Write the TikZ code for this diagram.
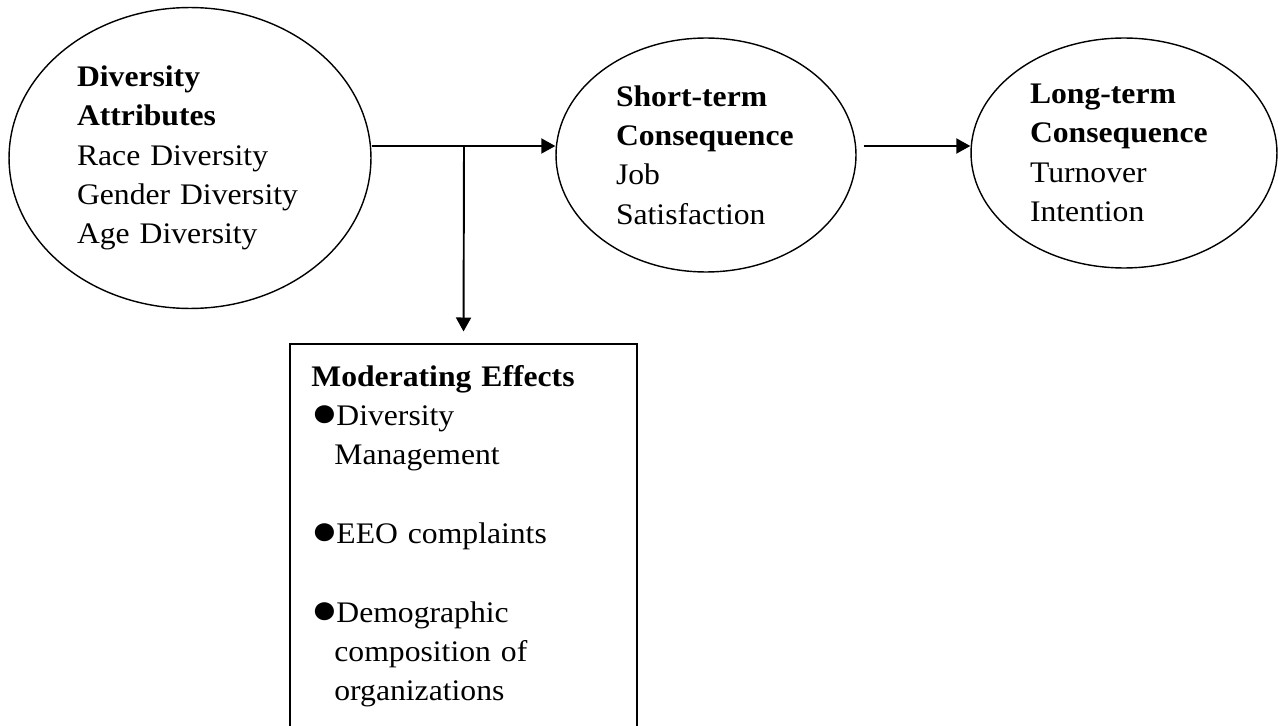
\documentclass[tikz,border=0pt]{standalone}
\usepackage{fontspec}
\setmainfont[FakeStretch=1.06]{Liberation Serif}
\usetikzlibrary{arrows.meta,shapes.geometric}
\newcommand{\bulletline}[1]{\par\noindent\hangindent=0.46cm\hangafter=1\makebox[0.5cm][l]{\raisebox{-0.5pt}{\scalebox{1.4}{●}}}#1\par}
\tikzset{
	oval/.style={draw, ellipse, line width=0.8pt, inner sep=0pt, align=left, font=\fontsize{17}{22.37}\selectfont},
	arr/.style={line width=1.1pt, -{Triangle[length=0.28cm,width=0.3cm]}},
	modbox/.style={draw, rectangle, line width=1.1pt, minimum width=6.94cm, minimum height=8.4cm, anchor=north, inner sep=0pt},
	modtext/.style={anchor=north west, inner sep=0pt, text width=6.2cm, align=left, font=\fontsize{17}{22.37}\selectfont}
}

\begin{document}
\begin{tikzpicture}[x=0.02cm,y=-0.02cm]
				\useasboundingbox (0,0) rectangle (1278,726);
				
				\node[oval, minimum width=7.24cm, minimum height=6.02cm, text width=4.52cm] (attr) at (190,158) {\textbf{Diversity}\\\textbf{Attributes}\\Race Diversity\\Gender Diversity\\Age Diversity};
				\node[oval, minimum width=6cm, minimum height=4.68cm, text width=3.6cm] (short) at (706,155) {\textbf{Short-term}\\\textbf{Consequence}\\Job\\Satisfaction};
				\node[oval, minimum width=6.12cm, minimum height=4.6cm, text width=3.76cm] (long) at (1124,153) {\textbf{Long-term}\\\textbf{Consequence}\\Turnover\\Intention};
				
				\node[modbox] (mod) at (463.5,343) {};
				\node[modtext] (modlist) at ([shift={(22,22)}]mod.north west) {\textbf{Moderating Effects}\bulletline{Diversity\newline Management}\vspace{22.37pt}\bulletline{EEO complaints}\vspace{22.37pt}\bulletline{Demographic\newline composition of\newline organizations}};
				
				\coordinate (split) at (464,146);
				\draw[line width=1.1pt] (attr.east |- split) -- (split);
				\draw[arr] (split) -- (short.west |- split);
				\draw[arr, shorten >=0.23cm] (split) -- (mod.north);
				\draw[arr, shorten <=0.14cm] (short.east |- split) -- (long.west |- split);
			\end{tikzpicture}
\end{document}
